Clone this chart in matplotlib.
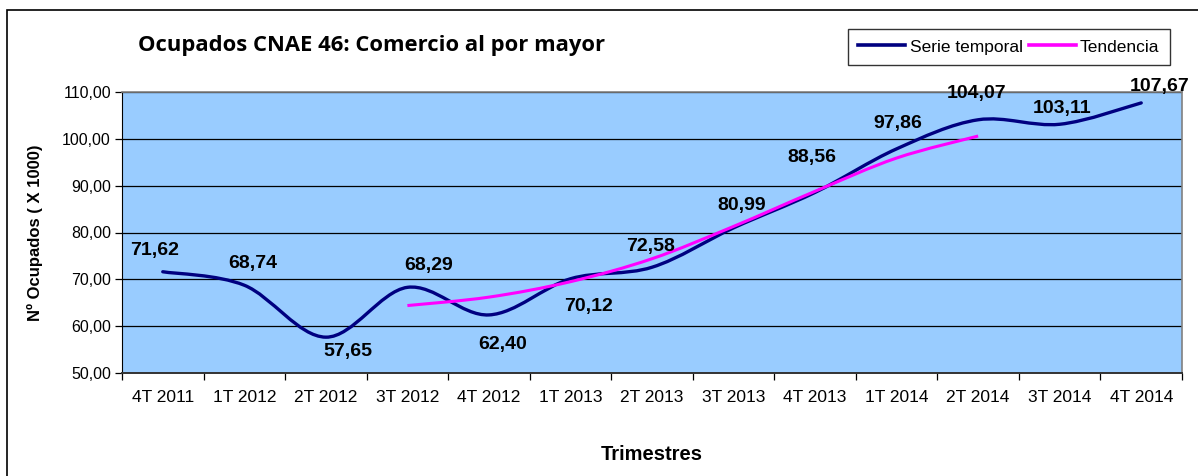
#Ocupados CNAE 46 - serie temporal y tendencia (estilo Excel)
import numpy as np
import matplotlib
matplotlib.use('Agg')
import matplotlib.pyplot as plt
from matplotlib.path import Path
from matplotlib.patches import PathPatch, Rectangle
from matplotlib.lines import Line2D

#Datos
trimestres = ['4T 2011', '1T 2012', '2T 2012', '3T 2012', '4T 2012', '1T 2013', '2T 2013',
              '3T 2013', '4T 2013', '1T 2014', '2T 2014', '3T 2014', '4T 2014']
ocupados = [71.62, 68.74, 57.65, 68.29, 62.40, 70.12, 72.58, 80.99, 88.56, 97.86, 104.07, 103.11, 107.67]
#La tendencia va del 3T 2012 al 2T 2014
tendencia_inicio = 3
tendencia = [64.4, 66.2, 69.5, 74.4, 81.3, 88.8, 95.9, 100.6]

#Desplazamiento de las etiquetas (puntos) respecto a cada dato
label_offsets = [(-6, 15), (6, 16), (16, -10), (15, 16), (10, -21), (13, -20), (-1, 15), (6, 16),
                 (-2, 25), (1, 18), (-1, 19), (2, 11), (13, 12)]

plt.rcParams['font.family'] = ['Liberation Sans', 'DejaVu Sans']

def smooth_path(xs, ys):
    #Curva suavizada tipo Excel (Bezier con tangentes de Catmull-Rom)
    pts = np.column_stack([xs, ys])
    ext = np.vstack([pts[0], pts, pts[-1]])
    verts = [pts[0]]
    codes = [Path.MOVETO]
    for i in range(len(pts) - 1):
        p0, p1, p2, p3 = ext[i], ext[i + 1], ext[i + 2], ext[i + 3]
        verts += [p1 + (p2 - p0) / 6, p2 - (p3 - p1) / 6, p2]
        codes += [Path.CURVE4] * 3
    return Path(verts, codes)

fig = plt.figure(figsize=(11.98, 4.76), dpi=100)
ax = fig.add_axes([122/1198, 1 - 373/476, (1182 - 122)/1198, (373 - 92)/476])
ax.set_facecolor('#99CCFF')

x = np.arange(len(trimestres))
navy = '#000080'
magenta = '#FF00FF'

ax.add_patch(PathPatch(smooth_path(x, ocupados), fill=False, edgecolor=navy, lw=2.4,
                       capstyle='round', joinstyle='round', zorder=3))
xt = np.arange(tendencia_inicio, tendencia_inicio + len(tendencia))
ax.add_patch(PathPatch(smooth_path(xt, tendencia), fill=False, edgecolor=magenta, lw=2.2,
                       capstyle='butt', zorder=4))

for xi, yi, off in zip(x, ocupados, label_offsets):
    ax.annotate(f'{yi:.2f}'.replace('.', ','), (xi, yi), xytext=off, textcoords='offset points',
                ha='center', va='center', fontsize=14, fontweight='bold', color='black', zorder=5)

ax.set_xlim(-0.5, len(trimestres) - 0.5)
ax.set_ylim(50, 110)
yticks = np.arange(50, 111, 10)
ax.set_yticks(yticks)
ax.set_yticklabels([f'{v:.2f}'.replace('.', ',') for v in yticks], fontsize=11.5)
ax.yaxis.grid(True, color='black', lw=0.9)
ax.set_axisbelow(True)

ax.set_xticks(np.arange(-0.5, len(trimestres), 1))
ax.set_xticklabels([])
ax.set_xticks(x, minor=True)
ax.set_xticklabels(trimestres, minor=True, fontsize=12.5)
ax.tick_params(axis='x', which='major', length=5, color='black', width=0.9)
ax.tick_params(axis='x', which='minor', length=0, pad=12)
ax.tick_params(axis='y', length=5, width=0.9, pad=3)

for side in ['top', 'right']:
    ax.spines[side].set_color('#808080')
    ax.spines[side].set_linewidth(1.2)
ax.spines['left'].set_color('black')
ax.spines['bottom'].set_color('#333333')
ax.spines['bottom'].set_linewidth(1.4)

ax.set_xlabel('Trimestres', fontsize=14.5, fontweight='bold', labelpad=29)
ax.set_ylabel('Nº Ocupados ( X 1000)', fontsize=12, fontweight='bold', labelpad=14)

fig.text(138/1198, 1 - 46/476, 'Ocupados CNAE 46: Comercio al por mayor', fontsize=15.8,
         fontweight='bold', family=['Open Sans', 'DejaVu Sans'], va='center', ha='left')

handles = [Line2D([], [], color=navy, lw=2.6), Line2D([], [], color=magenta, lw=2.6)]
leg = fig.legend(handles, ['Serie temporal', 'Tendencia'], loc='upper left',
                 bbox_to_anchor=(848/1198, 1 - 29/476), ncol=2, fontsize=12.5, frameon=True,
                 fancybox=False, edgecolor='black', borderaxespad=0, handlelength=2.7,
                 handletextpad=0.25, columnspacing=0.35, borderpad=0.6)
leg.get_frame().set_linewidth(1.0)

#Marco exterior del grafico
fig.add_artist(Rectangle((7/1198, -0.1), 1.1, 1.1 - 10/476, transform=fig.transFigure,
                         fill=False, edgecolor='black', lw=1.2))

fig.savefig('out.png', dpi=100)
